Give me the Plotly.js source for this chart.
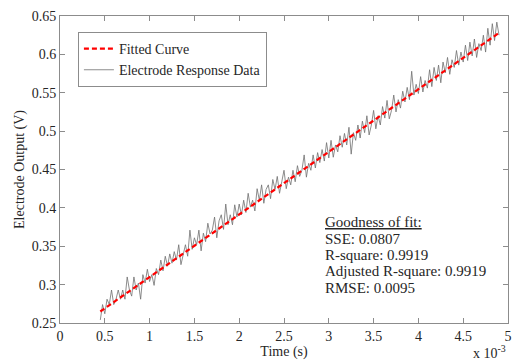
<!DOCTYPE html>
<html>
<head>
<meta charset="utf-8">
<script src="https://cdn.plot.ly/plotly-3.0.1.min.js"></script>
<style>html,body{margin:0;padding:0;background:#fff;}#chart{width:512px;height:360px;}</style>
</head>
<body>
<div id="chart"></div>
<script>
// time in units of 1e-3 s
const timeMs = [
0.450,0.475,0.500,0.525,0.550,0.575,0.600,0.625,0.650,0.675,
0.700,0.725,0.750,0.775,0.800,0.825,0.850,0.875,0.900,0.925,
0.950,0.975,1.000,1.025,1.050,1.075,1.100,1.125,1.150,1.175,
1.200,1.225,1.250,1.275,1.300,1.325,1.350,1.375,1.400,1.425,
1.450,1.475,1.500,1.525,1.550,1.575,1.600,1.625,1.650,1.675,
1.700,1.725,1.750,1.775,1.800,1.825,1.850,1.875,1.900,1.925,
1.950,1.975,2.000,2.025,2.050,2.075,2.100,2.125,2.150,2.175,
2.200,2.225,2.250,2.275,2.300,2.325,2.350,2.375,2.400,2.425,
2.450,2.475,2.500,2.525,2.550,2.575,2.600,2.625,2.650,2.675,
2.700,2.725,2.750,2.775,2.800,2.825,2.850,2.875,2.900,2.925,
2.950,2.975,3.000,3.025,3.050,3.075,3.100,3.125,3.150,3.175,
3.200,3.225,3.250,3.275,3.300,3.325,3.350,3.375,3.400,3.425,
3.450,3.475,3.500,3.525,3.550,3.575,3.600,3.625,3.650,3.675,
3.700,3.725,3.750,3.775,3.800,3.825,3.850,3.875,3.900,3.925,
3.950,3.975,4.000,4.025,4.050,4.075,4.100,4.125,4.150,4.175,
4.200,4.225,4.250,4.275,4.300,4.325,4.350,4.375,4.400,4.425,
4.450,4.475,4.500,4.525,4.550,4.575,4.600,4.625,4.650,4.675,
4.700,4.725,4.750,4.775,4.800,4.825,4.850,4.875,4.900
];
const responseV = [
0.254,0.274,0.262,0.281,0.274,0.293,0.274,0.281,0.293,0.281,
0.293,0.281,0.310,0.293,0.285,0.310,0.293,0.302,0.281,0.313,
0.302,0.320,0.304,0.313,0.299,0.321,0.313,0.332,0.318,0.337,
0.324,0.340,0.328,0.343,0.332,0.352,0.326,0.341,0.352,0.337,
0.371,0.346,0.361,0.352,0.371,0.344,0.367,0.356,0.380,0.366,
0.371,0.388,0.361,0.383,0.391,0.372,0.405,0.378,0.391,0.378,
0.404,0.388,0.405,0.391,0.410,0.394,0.419,0.401,0.410,0.396,
0.425,0.410,0.430,0.406,0.424,0.430,0.412,0.437,0.424,0.441,
0.419,0.434,0.449,0.425,0.440,0.430,0.449,0.434,0.455,0.441,
0.449,0.469,0.440,0.458,0.449,0.469,0.452,0.472,0.459,0.476,
0.461,0.485,0.465,0.488,0.466,0.482,0.473,0.494,0.479,0.497,
0.482,0.505,0.470,0.498,0.488,0.508,0.491,0.513,0.498,0.520,
0.495,0.508,0.527,0.503,0.520,0.508,0.532,0.517,0.540,0.516,
0.527,0.547,0.525,0.541,0.530,0.552,0.538,0.557,0.541,0.578,
0.547,0.561,0.549,0.571,0.551,0.566,0.556,0.580,0.558,0.583,
0.566,0.586,0.563,0.590,0.576,0.596,0.574,0.593,0.583,0.605,
0.586,0.603,0.590,0.612,0.592,0.616,0.598,0.620,0.596,0.614,
0.605,0.625,0.603,0.634,0.612,0.640,0.618,0.642,0.625
];
const fitTimeMs = [0.45, 4.9];
const fitV = [0.265, 0.628];
const xTicks = [0,0.5,1,1.5,2,2.5,3,3.5,4,4.5,5];
const yTicks = [0.25,0.3,0.35,0.4,0.45,0.5,0.55,0.6,0.65];
const fitTitle = "Goodness of fit:";
const fitStats = ["SSE: 0.0807","R-square: 0.9919","Adjusted R-square: 0.9919","RMSE: 0.0095"];

const serif = 'Liberation Serif';
const txtColor = '#262626';
const axisCommon = {
  showgrid:false, zeroline:false, showline:true, linecolor:'#8c8c8c', linewidth:1,
  mirror:'ticks', ticks:'inside', ticklen:5, tickcolor:'#8c8c8c',
  tickfont:{family:serif, size:14, color:txtColor}
};
const data = [
  {x:timeMs, y:responseV, type:'scatter', mode:'lines', name:'Electrode Response Data',
   line:{color:'#707070', width:0.8}},
  {x:fitTimeMs, y:fitV, type:'scatter', mode:'lines', name:'Fitted Curve',
   line:{color:'#ff0000', width:2.2, dash:'5px,3px'}}
];
// Goodness-of-fit block: one annotation per line for tight line spacing
const statLines = ['<u>' + fitTitle + '</u>'].concat(fitStats);
const statY = [0.329, 0.275, 0.2215, 0.168, 0.114];
const statAnn = statLines.map((t, i) => ({
  xref:'paper', yref:'paper', x:0.588, y:statY[i], xanchor:'left', yanchor:'middle', align:'left',
  showarrow:false, font:{family:serif, size:15, color:txtColor}, text:t
}));
const layout = {
  width:512, height:360,
  margin:{l:60, r:4, t:16, b:37},
  paper_bgcolor:'#fff', plot_bgcolor:'#fff',
  font:{family:serif, size:14, color:txtColor},
  xaxis:Object.assign({}, axisCommon, {range:[0,5], tickvals:xTicks, ticktext:xTicks.map(String),
    title:{text:'Time (s)', font:{family:serif, size:14, color:txtColor}, standoff:0}}),
  yaxis:Object.assign({}, axisCommon, {range:[0.25,0.65], tickvals:yTicks, ticktext:yTicks.map(String),
    title:{text:'Electrode Output (V)', font:{family:serif, size:14, color:txtColor}, standoff:3}}),
  showlegend:true,
  legend:{x:0.04, y:0.948, xanchor:'left', yanchor:'top', traceorder:'reversed',
    bgcolor:'#fff', bordercolor:'#8c8c8c', borderwidth:1,
    font:{family:serif, size:14, color:txtColor}, tracegroupgap:0, itemwidth:30},
  annotations: statAnn.concat([
    {xref:'paper', yref:'paper', x:1.0, y:-0.095, xanchor:'right', yanchor:'middle',
     showarrow:false, font:{family:serif, size:14, color:txtColor},
     text:'x 10<sup>-3</sup>'}
  ])
};
Plotly.newPlot('chart', data, layout, {displayModeBar:false, staticPlot:true});
</script>
</body>
</html>
